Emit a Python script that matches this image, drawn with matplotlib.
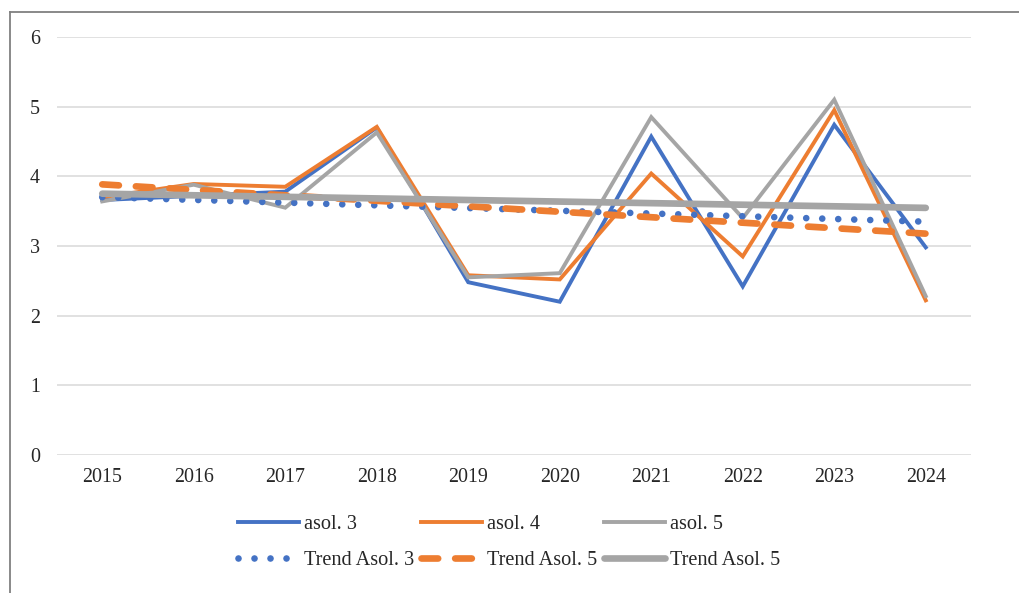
import numpy as np
import matplotlib
matplotlib.use("Agg")
import matplotlib.pyplot as plt
from matplotlib.lines import Line2D

plt.rcParams['font.family'] = ['Liberation Serif', 'DejaVu Serif']

years = ['2015', '2016', '2017', '2018', '2019', '2020', '2021', '2022', '2023', '2024']
asol3 = [3.66, 3.72, 3.78, 4.70, 2.48, 2.20, 4.57, 2.42, 4.74, 2.98]
asol4 = [3.70, 3.89, 3.85, 4.71, 2.58, 2.52, 4.04, 2.85, 4.95, 2.22]
asol5 = [3.64, 3.88, 3.55, 4.63, 2.55, 2.61, 4.85, 3.40, 5.10, 2.28]
series_labels = ['asol. 3', 'asol. 4', 'asol. 5']
trend_labels = ['Trend Asol. 3', 'Trend Asol. 5', 'Trend Asol. 5']
y_ticks = [0, 1, 2, 3, 4, 5, 6]

BLUE = '#4472C4'
ORANGE = '#ED7D31'
GRAY = '#A5A5A5'
TXT = '#262626'

W, H = 1019, 593
fig = plt.figure(figsize=(W / 100, H / 100), dpi=100)
ax = fig.add_axes([56.5 / W, 1 - 455 / H, (971.5 - 56.5) / W, (455 - 37) / H])

x = np.arange(len(years))
lw_data = 2.8
lw_trend = 4.8

h1, = ax.plot(x, asol3, color=BLUE, lw=lw_data, solid_joinstyle='miter', zorder=3)
h2, = ax.plot(x, asol4, color=ORANGE, lw=lw_data, solid_joinstyle='miter', zorder=3)
h3, = ax.plot(x, asol5, color=GRAY, lw=lw_data, solid_joinstyle='miter', zorder=3)

def trend(vals):
    k, b = np.polyfit(x, vals, 1)
    return k * x + b

t1, = ax.plot(x, trend(asol3), color=BLUE, lw=lw_trend, linestyle=(0, (0.001, 2.4)),
              dash_capstyle='round', zorder=4)
t2, = ax.plot(x, trend(asol4), color=ORANGE, lw=lw_trend, linestyle=(0, (2.5, 2.55)),
              dash_capstyle='round', zorder=5)
t3, = ax.plot(x, trend(asol5), color=GRAY, lw=lw_trend, solid_capstyle='round', zorder=6)

ax.set_xlim(-0.5, len(years) - 0.5)
ax.set_ylim(0, 6)
ax.set_xticks(x)
ax.set_xticklabels(years)
ax.set_yticks(y_ticks)
ax.grid(axis='y', color='#D9D9D9', lw=1.1, zorder=0)
ax.set_axisbelow(True)
for s in ax.spines.values():
    s.set_visible(False)
ax.tick_params(axis='both', length=0, labelsize=14.4, labelcolor=TXT)
ax.tick_params(axis='x', pad=9)
ax.tick_params(axis='y', pad=12)

handles = [h1, t1, h2, t2, h3, t3]
labels = [series_labels[0], trend_labels[0], series_labels[1], trend_labels[1],
          series_labels[2], trend_labels[2]]
fig.legend(handles, labels, loc='center', bbox_to_anchor=(509 / W, 1 - 542.5 / H),
           ncol=3, frameon=False, fontsize=14.6, handlelength=3.0,
           handletextpad=0.25, columnspacing=0.35, labelspacing=0.8,
           labelcolor=TXT)

# outer frame lines (top and left)
fig.add_artist(Line2D([9.5 / W, 9.5 / W], [0, 1 - 12 / H], transform=fig.transFigure,
                      color='#808080', lw=1.3))
fig.add_artist(Line2D([9.5 / W, 1], [1 - 12 / H, 1 - 12 / H], transform=fig.transFigure,
                      color='#808080', lw=1.3))

fig.savefig('out.png', dpi=100)
